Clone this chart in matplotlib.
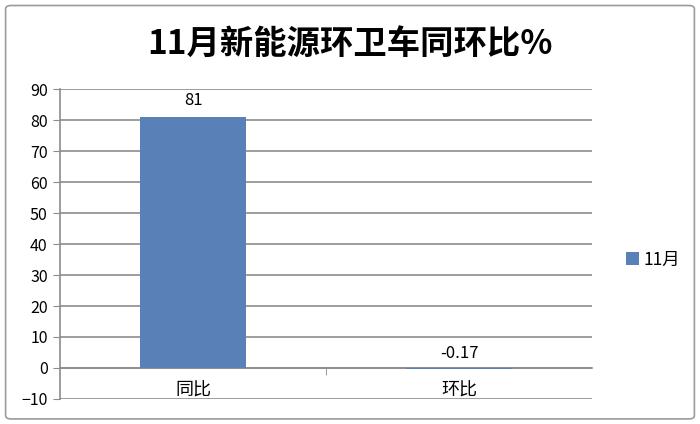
import matplotlib.pyplot as plt
from matplotlib.patches import FancyBboxPatch

plt.rcParams['font.family'] = ['Noto Sans CJK SC', 'DejaVu Sans']

# data
categories = ['同比', '环比']
values = [81, -0.17]
value_labels = ['81', '-0.17']
series_name = '11月'
title = '11月新能源环卫车同环比%'
yticks = list(range(-10, 91, 10))

bar_color = '#5A80B8'
grid_color = '#8C8C8C'

fig = plt.figure(figsize=(7, 4.24), dpi=100)
fig.patches.append(FancyBboxPatch((0.008, 0.012), 0.984, 0.975,
                                  boxstyle='round,pad=0,rounding_size=0.008',
                                  transform=fig.transFigure, fill=False,
                                  edgecolor='#9A9A9A', linewidth=1.2))

ax = fig.add_axes([0.086, 0.059, 0.76, 0.731])
x = range(len(categories))
bars = ax.bar(x, values, width=0.4, color=bar_color, label=series_name, zorder=3)

ax.set_xlim(-0.5, len(categories) - 0.5)
ax.set_ylim(-10, 90)
ax.set_yticks(yticks)
ax.yaxis.grid(True, color=grid_color, linewidth=1.2, zorder=0)
ax.tick_params(axis='y', length=5, color=grid_color, labelsize=11.5, pad=4)

# category axis at zero
ax.spines['bottom'].set_position(('data', 0))
ax.spines['bottom'].set_color(grid_color)
ax.spines['bottom'].set_linewidth(1.2)
ax.spines['left'].set_color(grid_color)
ax.spines['left'].set_linewidth(1.2)
ax.spines['top'].set_visible(False)
ax.spines['right'].set_visible(False)
ax.set_xticks(list(x))
ax.set_xticklabels(categories)
ax.set_xticks([0.5], minor=True)
ax.tick_params(axis='x', which='major', length=0, labelsize=13, pad=10)
ax.tick_params(axis='x', which='minor', length=5, color=grid_color)

offsets = [6, 4]
for i, (v, lab) in enumerate(zip(values, value_labels)):
    ax.annotate(lab, (i, max(v, 0)), xytext=(0, offsets[i]), textcoords='offset points',
                ha='center', va='bottom', fontsize=12)

fig.text(0.5, 0.893, title, ha='center', va='center', fontsize=24, fontweight='bold')

ax.legend(loc='center left', bbox_to_anchor=(1.035, 0.45), frameon=False,
          fontsize=12.5, handlelength=0.7, handleheight=0.7, handletextpad=0.3)

fig.savefig('out.png', dpi=100)
